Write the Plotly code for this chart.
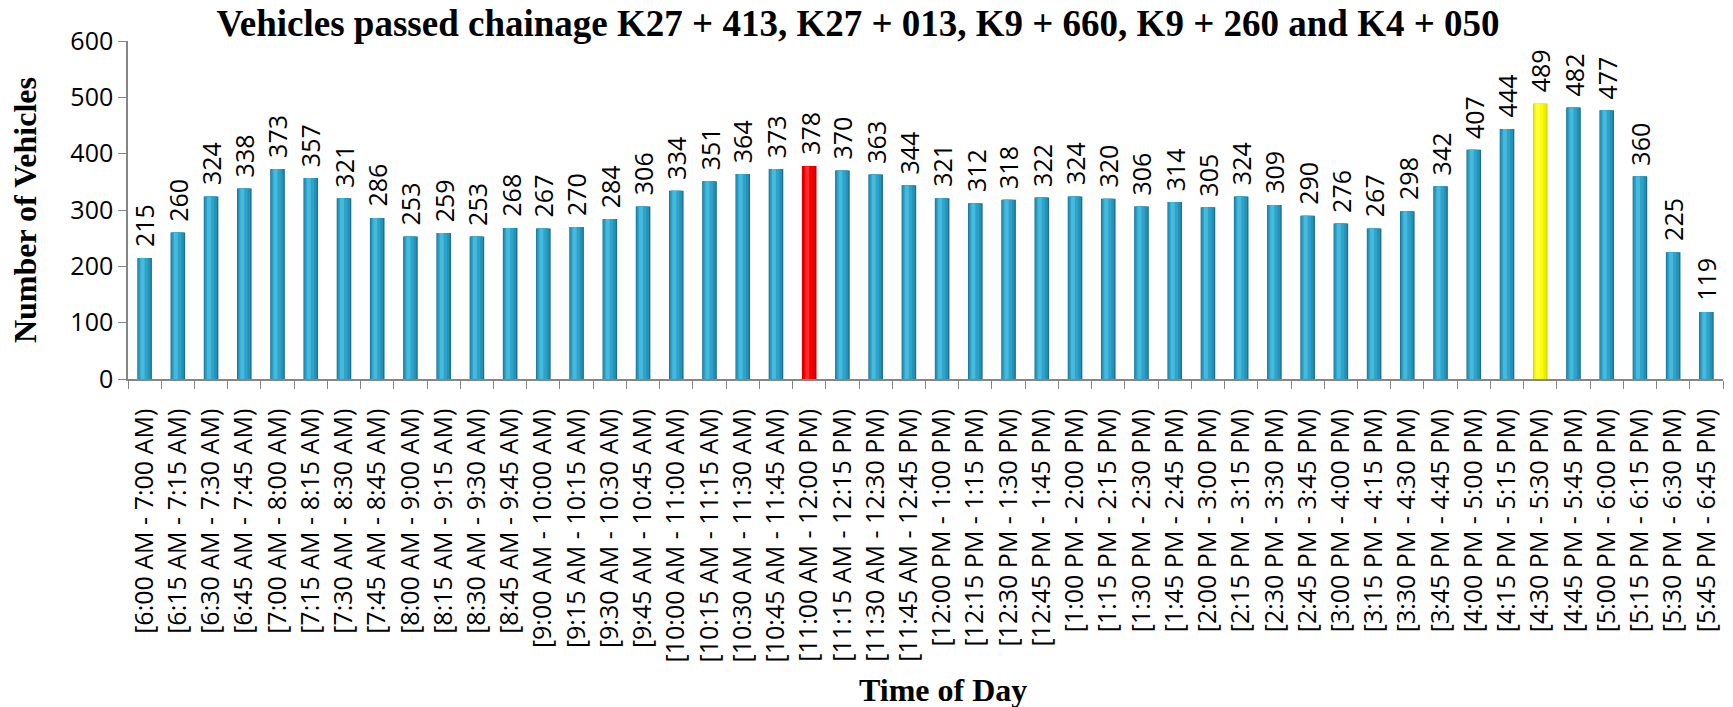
import plotly.graph_objects as go

categories = [
    "[6:00 AM - 7:00 AM)", "[6:15 AM - 7:15 AM)", "[6:30 AM - 7:30 AM)", "[6:45 AM - 7:45 AM)",
    "[7:00 AM - 8:00 AM)", "[7:15 AM - 8:15 AM)", "[7:30 AM - 8:30 AM)", "[7:45 AM - 8:45 AM)",
    "[8:00 AM - 9:00 AM)", "[8:15 AM - 9:15 AM)", "[8:30 AM - 9:30 AM)", "[8:45 AM - 9:45 AM)",
    "[9:00 AM - 10:00 AM)", "[9:15 AM - 10:15 AM)", "[9:30 AM - 10:30 AM)", "[9:45 AM - 10:45 AM)",
    "[10:00 AM - 11:00 AM)", "[10:15 AM - 11:15 AM)", "[10:30 AM - 11:30 AM)", "[10:45 AM - 11:45 AM)",
    "[11:00 AM - 12:00 PM)", "[11:15 AM - 12:15 PM)", "[11:30 AM - 12:30 PM)", "[11:45 AM - 12:45 PM)",
    "[12:00 PM - 1:00 PM)", "[12:15 PM - 1:15 PM)", "[12:30 PM - 1:30 PM)", "[12:45 PM - 1:45 PM)",
    "[1:00 PM - 2:00 PM)", "[1:15 PM - 2:15 PM)", "[1:30 PM - 2:30 PM)", "[1:45 PM - 2:45 PM)",
    "[2:00 PM - 3:00 PM)", "[2:15 PM - 3:15 PM)", "[2:30 PM - 3:30 PM)", "[2:45 PM - 3:45 PM)",
    "[3:00 PM - 4:00 PM)", "[3:15 PM - 4:15 PM)", "[3:30 PM - 4:30 PM)", "[3:45 PM - 4:45 PM)",
    "[4:00 PM - 5:00 PM)", "[4:15 PM - 5:15 PM)", "[4:30 PM - 5:30 PM)", "[4:45 PM - 5:45 PM)",
    "[5:00 PM - 6:00 PM)", "[5:15 PM - 6:15 PM)", "[5:30 PM - 6:30 PM)", "[5:45 PM - 6:45 PM)",
]

vehicles = [
    215, 260, 324, 338, 373, 357, 321, 286, 253, 259,
    253, 268, 267, 270, 284, 306, 334, 351, 364, 373,
    378, 370, 363, 344, 321, 312, 318, 322, 324, 320,
    306, 314, 305, 324, 309, 290, 276, 267, 298, 342,
    407, 444, 489, 482, 477, 360, 225, 119,
]

min_label = "[11:00 AM - 12:00 PM)"   # highlighted red
max_label = "[4:30 PM - 5:30 PM)"     # highlighted yellow

title_text = "Vehicles passed chainage K27 + 413, K27 + 013, K9 + 660, K9 + 260 and K4 + 050"
x_title = "Time of Day"
y_title = "Number of Vehicles"


def shade(blue, red, yellow):
    out = []
    for c in categories:
        if c == min_label:
            out.append(red)
        elif c == max_label:
            out.append(yellow)
        else:
            out.append(blue)
    return out


fig = go.Figure()
# layered bars to imitate the cylinder shading
layers = [
    (0.44, 0.0, ("#1C6F8E", "#C80000", "#D6D600")),
    (0.38, -0.01, ("#2790B5", "#E00000", "#EDED00")),
    (0.26, -0.03, ("#2DA3CA", "#F50000", "#FAFA00")),
    (0.12, -0.06, ("#45BADC", "#FF2A2A", "#FFFF40")),
]
for w, shift, cols in layers:
    fig.add_trace(go.Bar(
        x=categories, y=vehicles, width=w, offset=-0.22 + (0.44 - w) / 2 + shift,
        marker=dict(color=shade(*cols), line=dict(width=0)),
        hoverinfo="skip", showlegend=False,
    ))

for c, v in zip(categories, vehicles):
    fig.add_annotation(
        x=c, y=v, text=str(v), textangle=-90, showarrow=False,
        xanchor="center", yanchor="bottom", yshift=9,
        font=dict(family="Open Sans", size=25, color="#000000"),
    )

fig.add_annotation(
    xref="paper", yref="paper", x=-0.0645, y=0.5, text=f"<b>{y_title}</b>",
    textangle=-90, showarrow=False, xanchor="center", yanchor="middle",
    font=dict(family="Liberation Serif", size=32, color="#000000"),
)
fig.add_annotation(
    xref="paper", yref="paper", x=0.511, y=-0.92, text=f"<b>{x_title}</b>",
    showarrow=False, xanchor="center", yanchor="middle",
    font=dict(family="Liberation Serif", size=32, color="#000000"),
)

fig.update_layout(
    width=1733, height=707,
    margin=dict(l=128, r=10, t=41, b=328),
    paper_bgcolor="white", plot_bgcolor="white",
    barmode="overlay",
    title=dict(
        text=f"<b>{title_text}</b>", xref="container", yref="container",
        x=858 / 1733, y=1 - 23 / 707, xanchor="center", yanchor="middle",
        font=dict(family="Liberation Serif", size=37, color="#000000"),
    ),
    xaxis=dict(
        type="category", range=[-0.5, len(categories) - 0.5],
        tickangle=-90, tickson="boundaries", ticks="outside", ticklen=8,
        ticklabelstandoff=18,
        tickcolor="#868686", showline=True, linecolor="#868686", linewidth=1.5,
        showgrid=False, tickfont=dict(family="Open Sans", size=25, color="#000000"),
    ),
    yaxis=dict(
        range=[0, 600], dtick=100, ticks="outside", ticklen=8,
        tickcolor="#868686", showline=True, linecolor="#868686", linewidth=1.5,
        showgrid=False, zeroline=False,
        tickfont=dict(family="Open Sans", size=25, color="#000000"),
    ),
)

fig.write_html("out.html")
